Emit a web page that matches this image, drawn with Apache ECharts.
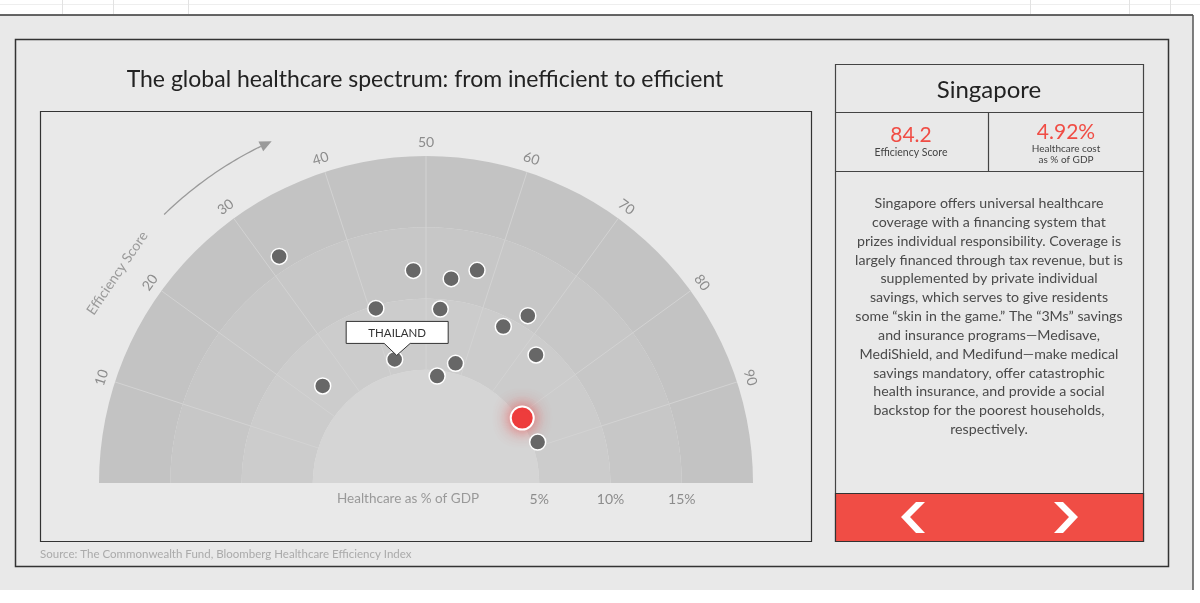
<!DOCTYPE html>
<html><head><meta charset="utf-8">
<script src="https://cdn.jsdelivr.net/npm/echarts@6/dist/echarts.min.js"></script>
<style>html,body{margin:0;padding:0;background:#fff;}#c{width:1200px;height:603px;}</style>
</head><body><div id="c"></div>
<script>
// ---------------- data ----------------
const countries = ['', '', '', '', '', '', '', '', 'THAILAND', '', '', '', '', 'Singapore', ''];
const efficiencyScores = [31.7, 48.1, 53.9, 57.5, 41.1, 52.6, 64.6, 67.4, 42.1, 57.7, 53.3, 72.6, 24.0, 81.1, 88.8];
const costPctGdp = [16.0, 12.0, 11.5, 12.4, 9.8, 9.3, 9.3, 10.8, 6.0, 5.7, 4.6, 8.9, 7.0, 5.2, 5.4];
const angleTicks = [10, 20, 30, 40, 50, 60, 70, 80, 90];
const radiusTicks = [5, 10, 15];
const radiusBands = [[0, 5], [5, 10], [10, 15], [15, 20]];
const highlighted = 'Singapore';
const callout = 'THAILAND';
const panelName = 'Singapore';
const panelScore = '84.2';
const panelCost = '4.92%';
const description = [
  'Singapore offers universal healthcare',
  'coverage with a financing system that',
  'prizes individual responsibility. Coverage is',
  'largely financed through tax revenue, but is',
  'supplemented by private individual',
  'savings, which serves to give residents',
  'some \u201cskin in the game.\u201d The \u201c3Ms\u201d savings',
  'and insurance programs\u2014Medisave,',
  'MediShield, and Medifund\u2014make medical',
  'savings mandatory, offer catastrophic',
  'health insurance, and provide a social',
  'backstop for the poorest households,',
  'respectively.'
];
const titleText = 'The global healthcare spectrum: from inefficient to efficient';
const sourceText = 'Source: The Commonwealth Fund, Bloomberg Healthcare Efficiency Index';
const radiusName = 'Healthcare as % of GDP';
const angleName = 'Efficiency Score';

// ---------------- layout ----------------
const CX = 426, CY = 483, R0 = 42, R1 = 327;
const RMAX = 20, AMAX = 100;
const FONT = 'Lato, "Noto Sans", sans-serif';
const BG = '#e9e9e9';
const BANDS = ['#d5d5d5', '#cccccc', '#c7c7c7', '#c3c3c3'];
const RED = '#f04d45';

const chart = echarts.init(document.getElementById('c'), null, {renderer: 'canvas'});

const pointData = efficiencyScores.map((s, i) => {
  const item = {name: countries[i], value: [costPctGdp[i], s]};
  if (countries[i] === highlighted) {
    item.symbolSize = 23;
    item.z = 10;
    item.itemStyle = {color: '#ee3e3e', borderColor: '#fff', borderWidth: 2,
      shadowBlur: 16, shadowColor: 'rgba(240,50,50,0.75)'};
  }
  return item;
});
const calloutIdx = countries.indexOf(callout);

function unitDir(api, a) {
  const p1 = api.coord([0, a]), p2 = api.coord([RMAX, a]);
  let dx = p2[0] - p1[0], dy = p2[1] - p1[1];
  const L = Math.hypot(dx, dy);
  return [dx / L, dy / L];
}
function ring(api, r) {
  const a = api.coord([r, 0]), b = api.coord([r, AMAX]);
  return {cx: (a[0] + b[0]) / 2, cy: (a[1] + b[1]) / 2, r: Math.hypot(a[0] - b[0], a[1] - b[1]) / 2};
}

const txt = (text, x, y, size, color, align, extra) => Object.assign({
  type: 'text', silent: true, z: 50,
  style: {text, x, y, fill: color, font: size + 'px ' + FONT, textAlign: align || 'center', textVerticalAlign: 'middle'}
}, extra || {});
const line = (x1, y1, x2, y2, color, w) => ({type: 'line', silent: true, z: 40,
  shape: {x1, y1, x2, y2}, style: {stroke: color, lineWidth: w || 1}});

const descGraphic = {
  type: 'text', silent: true, z: 50,
  style: {text: description.join('\n'), x: 989, y: 194, fill: '#4a4a4a',
    font: '14.2px ' + FONT, textAlign: 'center', textVerticalAlign: 'top', lineHeight: 18.85}
};

const graphics = [
  {type: 'rect', silent: true, z: -10, shape: {x: 0, y: 15, width: 1193, height: 575}, style: {fill: BG}},
  line(0, 4.5, 1200, 4.5, '#eeeeee'),
  line(62.5, 0, 62.5, 14, '#e2e2e2'), line(113.5, 0, 113.5, 14, '#e2e2e2'), line(188.5, 0, 188.5, 14, '#e2e2e2'),
  line(1030.5, 0, 1030.5, 14, '#e2e2e2'), line(1129.5, 0, 1129.5, 14, '#e2e2e2'), line(1170.5, 0, 1170.5, 14, '#e2e2e2'),
  line(0, 15, 1193, 15, '#333', 1.5),
  line(1193, 15, 1193, 590, '#555', 1.5),
  {type: 'rect', silent: true, z: 40, shape: {x: 15.5, y: 39.5, width: 1153, height: 527}, style: {fill: 'none', stroke: '#333', lineWidth: 1.5}},
  {type: 'rect', silent: true, z: 40, shape: {x: 40.5, y: 111.5, width: 771, height: 430}, style: {fill: 'none', stroke: '#333', lineWidth: 1.2}},
  txt(titleText, 425, 80, 23, '#222'),
  txt(sourceText, 40, 554, 11.5, '#aaaaaa', 'left'),
  txt(radiusName, 408, 499, 13.5, '#999999'),
  {type: 'rect', silent: true, z: 40, shape: {x: 835.5, y: 64.5, width: 308, height: 477}, style: {fill: 'none', stroke: '#444', lineWidth: 1.2}},
  line(835.5, 112.5, 1143.5, 112.5, '#444', 1.2),
  line(835.5, 171.5, 1143.5, 171.5, '#444', 1.2),
  line(988.5, 112.5, 988.5, 171.5, '#444', 1.2),
  {type: 'rect', silent: true, z: 41, shape: {x: 835.5, y: 493.5, width: 308, height: 48}, style: {fill: RED, stroke: '#333', lineWidth: 1.2}},
  line(988.5, 493.5, 988.5, 541.5, '#333', 1.2),
  {type: 'polygon', silent: true, z: 42, shape: {points: [[916, 502], [925, 502], [910, 517], [925, 533], [916, 533], [901, 517]]}, style: {fill: '#fff'}},
  {type: 'polygon', silent: true, z: 42, shape: {points: [[1063, 502], [1054, 502], [1069, 517], [1054, 533], [1063, 533], [1078, 517]]}, style: {fill: '#fff'}},
  txt(panelName, 989, 90, 24, '#222'),
  txt(panelScore, 911, 135, 21, RED),
  txt('Efficiency Score', 911, 153, 10.5, '#444'),
  txt(panelCost, 1066, 132, 21, RED),
  txt('Healthcare cost', 1066, 148.5, 10, '#444'),
  txt('as % of GDP', 1066, 159.5, 10, '#444'),
  descGraphic
];

const option = {
  backgroundColor: 'transparent',
  animation: false,
  polar: {center: [CX, CY], radius: [R0, R1]},
  angleAxis: {
    type: 'value', min: 0, max: AMAX, interval: 10,
    startAngle: 180, endAngle: 0, clockwise: true,
    axisLine: {show: false}, axisTick: {show: false}, axisLabel: {show: false},
    splitLine: {show: false}
  },
  radiusAxis: {
    type: 'value', min: 0, max: RMAX, interval: 5,
    axisLine: {show: false}, axisTick: {show: false}, axisLabel: {show: false},
    splitLine: {show: false}, splitArea: {show: false}
  },
  graphic: graphics,
  series: [
    { // bands
      type: 'custom', coordinateSystem: 'polar', silent: true, z: 1,
      data: radiusBands,
      renderItem: (params, api) => {
        const lo = api.value(0), hi = api.value(1);
        const o = ring(api, hi), inn = ring(api, lo);
        return {type: 'sector', shape: {cx: o.cx, cy: o.cy, r0: lo === 0 ? 0 : inn.r, r: o.r,
          startAngle: Math.PI, endAngle: Math.PI * 2, clockwise: true},
          style: {fill: BANDS[params.dataIndex]}};
      }
    },
    { // radial split lines
      type: 'custom', coordinateSystem: 'polar', silent: true, z: 2,
      data: angleTicks.map(v => [RMAX, v]),
      renderItem: (params, api) => {
        const a = api.value(1);
        const p1 = api.coord([radiusTicks[0], a]), p2 = api.coord([RMAX, a]);
        return {type: 'line', shape: {x1: p1[0], y1: p1[1], x2: p2[0], y2: p2[1]},
          style: {stroke: '#d3d3d3', lineWidth: 1}};
      }
    },
    { // angle tick labels
      type: 'custom', coordinateSystem: 'polar', silent: true, z: 3,
      data: angleTicks.map(v => [RMAX, v]),
      renderItem: (params, api) => {
        const a = api.value(1);
        const d = unitDir(api, a);
        const p = api.coord([RMAX, a]);
        const phi = Math.atan2(-d[1], d[0]);
        return {type: 'text', x: p[0] + d[0] * 14, y: p[1] + d[1] * 14, rotation: phi - Math.PI / 2,
          style: {text: String(a), fill: '#8c8c8c', font: '14px ' + FONT, align: 'center', verticalAlign: 'middle'}};
      }
    },
    { // radius tick labels along the right baseline
      type: 'custom', coordinateSystem: 'polar', silent: true, z: 3,
      data: radiusTicks.map(v => [v, AMAX]),
      renderItem: (params, api) => {
        const p = api.coord([api.value(0), api.value(1)]);
        return {type: 'text', x: p[0], y: p[1] + 16,
          style: {text: api.value(0) + '%', fill: '#8c8c8c', font: '14px ' + FONT, align: 'center', verticalAlign: 'middle'}};
      }
    },
    { // efficiency arrow + name
      type: 'custom', coordinateSystem: 'polar', silent: true, z: 3,
      data: [[23.25, 19.0]],
      renderItem: (params, api) => {
        const r = api.value(0), a = api.value(1);
        const arcR = 23.37;
        const pts = [];
        for (let s = 25.4; s <= 35.21; s += 0.35) pts.push(api.coord([arcR, s]));
        const tip = api.coord([arcR, 36.5]);
        const prev = pts[pts.length - 1];
        let dx = tip[0] - prev[0], dy = tip[1] - prev[1];
        const L = Math.hypot(dx, dy); dx /= L; dy /= L;
        const bx = tip[0] - dx * 12, by = tip[1] - dy * 12;
        const nx = -dy, ny = dx;
        const lp = api.coord([r, a]);
        const d = unitDir(api, a);
        const phi = Math.atan2(-d[1], d[0]);
        return {type: 'group', children: [
          {type: 'polyline', shape: {points: pts.concat([[bx, by]])}, style: {stroke: '#9a9a9a', lineWidth: 1.3, fill: null}},
          {type: 'polygon', shape: {points: [tip, [bx + nx * 5.5, by + ny * 5.5], [bx - nx * 5.5, by - ny * 5.5]]}, style: {fill: '#9a9a9a'}},
          {type: 'text', x: lp[0], y: lp[1], rotation: phi - Math.PI / 2,
            style: {text: angleName, fill: '#9a9a9a', font: '14px ' + FONT, align: 'center', verticalAlign: 'middle'}}
        ]};
      }
    },
    {
      type: 'scatter', coordinateSystem: 'polar', z: 5,
      symbol: 'circle', symbolSize: 16,
      itemStyle: {color: '#676767', borderColor: '#fff', borderWidth: 1.5, opacity: 1},
      emphasis: {disabled: true},
      data: pointData
    },
    { // callout
      type: 'custom', coordinateSystem: 'polar', silent: true, z: 6,
      data: [[costPctGdp[calloutIdx], efficiencyScores[calloutIdx]]],
      renderItem: (params, api) => {
        const p = api.coord([api.value(0), api.value(1)]);
        const cx = p[0] + 2.5, top = p[1] - 38, bot = p[1] - 16;
        const pts = [[cx - 51, top], [cx + 51, top], [cx + 51, bot], [cx + 13, bot], [p[0] + 2, p[1] - 4],
          [cx - 13, bot], [cx - 51, bot]];
        return {type: 'group', children: [
          {type: 'polygon', shape: {points: pts}, style: {fill: '#fff', stroke: '#333', lineWidth: 1}},
          {type: 'text', x: cx, y: (top + bot) / 2 + 0.5,
            style: {text: callout, fill: '#333', font: '11.5px ' + FONT, align: 'center', verticalAlign: 'middle'}}
        ]};
      }
    }
  ]
};
chart.setOption(option);
</script>
</body></html>
